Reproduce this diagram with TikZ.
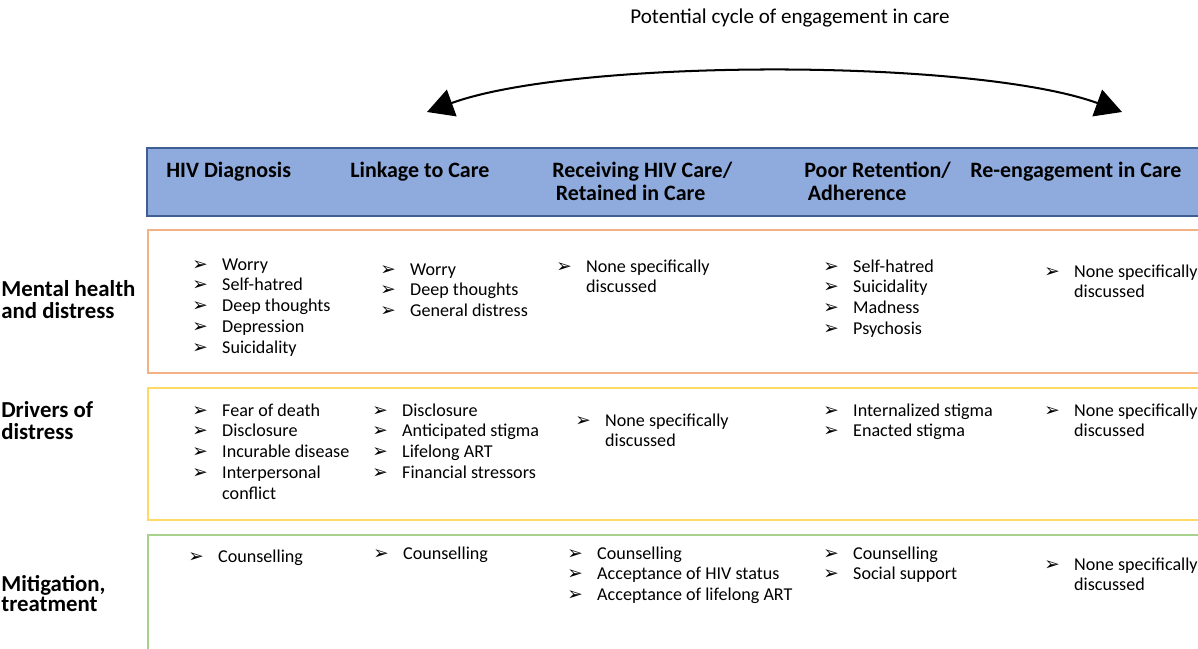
\documentclass[tikz,border=0pt]{standalone}
\usepackage{fontspec}
\setmainfont{Carlito}
\newfontfamily\symf{DejaVu Sans}
\usetikzlibrary{arrows.meta}
\definecolor{barfill}{HTML}{8FAADC}
\definecolor{barline}{HTML}{3F5F94}
\definecolor{mhline}{HTML}{F4B183}
\definecolor{drline}{HTML}{FFD966}
\definecolor{mtline}{HTML}{A9D18E}
\newcommand{\bul}{\makebox[17pt][l]{\symf\fontsize{10.5}{10.5}\selectfont ➢}}
\newcommand{\itmgap}{\hspace*{17pt}}
\newcommand{\cellrows}[1]{\begin{tabular}[t]{@{}l@{}}#1\end{tabular}}
\tikzset{
  head/.style={anchor=base west,inner sep=0pt,font=\bfseries\fontsize{12.5}{13.3}\selectfont},
  rowlabel/.style={anchor=base west,inner sep=0pt,font=\bfseries\fontsize{13}{11.9}\selectfont},
  item/.style={anchor=base west,inner sep=0pt,font=\fontsize{10.3}{11.9}\selectfont},
}
\begin{document}
\begin{tikzpicture}[x=0.02cm,y=-0.02cm,>={Triangle[length=15pt,width=16pt]}]
\useasboundingbox (0,0) rectangle (1198,649);
% cycle arrow
\node[anchor=base,inner sep=0pt,font=\fontsize{12}{13}\selectfont] (cyc) at (790,24) {Potential cycle of engagement in care};
\coordinate (cycL) at (427,112);
\coordinate (cycR) at (1122,112);
\draw[<->,line width=1.15pt] (cycL) to[out=20,in=160,looseness=0.58] (cycR);
% header bar
\draw[fill=barfill,draw=barline,line width=1.2pt] (147,148) rectangle (1215,216);
\node[head] (hd1) at (166,177) {HIV Diagnosis};
\node[head] (hd2) at (350,177) {Linkage to Care};
\node[head] (hd3) at (552,177) {\cellrows{Receiving HIV Care/\\\hspace*{2pt}Retained in Care}};
\node[head] (hd4) at (804,177) {\cellrows{Poor Retention/\\\hspace*{2pt}Adherence}};
\node[head] (hd5) at (970,177) {Re-engagement in Care};
% row boxes
\foreach \ya/\yb/\c in {230/373/mhline,388/520/drline,535/700/mtline}
  \draw[draw=\c,line width=1.1pt] (148,\ya) rectangle (1215,\yb);
\node[rowlabel] (lbmh) at (1,296) {\cellrows{Mental health\\and distress}};
\node[rowlabel] (lbdr) at (1,417) {\cellrows{Drivers of\\distress}};
\node[rowlabel] (lbmt) at (1,591) {\cellrows{Mitigation,\\treatment}};
% mental health and distress
\node[item] (mh1) at (192,270) {\cellrows{\bul Worry\\\bul Self-hatred\\\bul Deep thoughts\\\bul Depression\\\bul Suicidality}};
\node[item] (mh2) at (380,275) {\cellrows{\bul Worry\\\bul Deep thoughts\\\bul General distress}};
\node[item] (mh3) at (556,272) {\cellrows{\bul None specifically\\\itmgap discussed}};
\node[item] (mh4) at (823,272) {\cellrows{\bul Self-hatred\\\bul Suicidality\\\bul Madness\\\bul Psychosis}};
\node[item] (mh5) at (1044,277) {\cellrows{\bul None specifically\\\itmgap discussed}};
% drivers of distress
\node[item] (dr1) at (192,416) {\cellrows{\bul Fear of death\\\bul Disclosure\\\bul Incurable disease\\\bul Interpersonal\\\itmgap conflict}};
\node[item] (dr2) at (372,416) {\cellrows{\bul Disclosure\\\bul Anticipated stigma\\\bul Lifelong ART\\\bul Financial stressors}};
\node[item] (dr3) at (575,426) {\cellrows{\bul None specifically\\\itmgap discussed}};
\node[item] (dr4) at (823,416) {\cellrows{\bul Internalized stigma\\\bul Enacted stigma}};
\node[item] (dr5) at (1044,416) {\cellrows{\bul None specifically\\\itmgap discussed}};
% mitigation, treatment
\node[item] (mt1) at (188,562) {\cellrows{\bul Counselling}};
\node[item] (mt2) at (373,559) {\cellrows{\bul Counselling}};
\node[item] (mt3) at (567,559) {\cellrows{\bul Counselling\\\bul Acceptance of HIV status\\\bul Acceptance of lifelong ART}};
\node[item] (mt4) at (823,559) {\cellrows{\bul Counselling\\\bul Social support}};
\node[item] (mt5) at (1044,570) {\cellrows{\bul None specifically\\\itmgap discussed}};
\end{tikzpicture}
\end{document}
